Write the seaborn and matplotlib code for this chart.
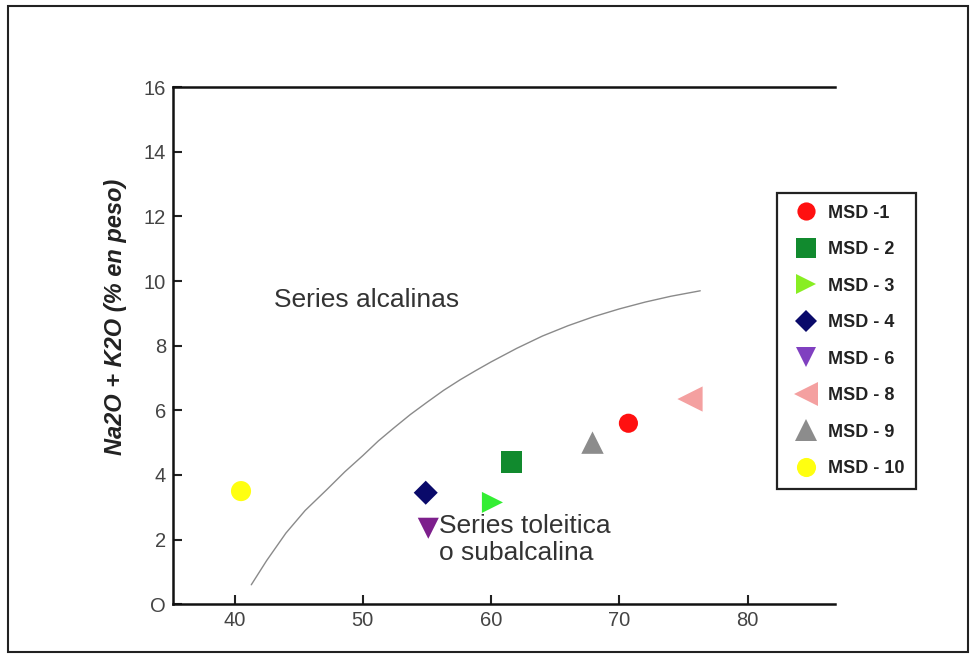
import matplotlib
matplotlib.use("Agg")
import numpy as np
import pandas as pd
import matplotlib.pyplot as plt
import seaborn as sns
from matplotlib.lines import Line2D
from matplotlib.patches import Rectangle

# Samples (SiO2 vs Na2O + K2O)
samples = ["MSD -1", "MSD - 2", "MSD - 3", "MSD - 4", "MSD - 6", "MSD - 8", "MSD - 9", "MSD - 10"]
sio2 = [70.7, 61.6, 60.1, 54.9, 55.1, 75.5, 67.9, 40.5]
alkalis = [5.6, 4.4, 3.15, 3.45, 2.35, 6.35, 5.0, 3.5]

colors = ["#ff1010", "#118a2e", "#33ee33", "#0a0a6a", "#7d1f8c", "#f4a0a0", "#8c8c8c", "#ffff10"]
legend_colors = ["#ff1010", "#118a2e", "#88ee22", "#0a0a6a", "#8040c0", "#f4a0a0", "#8c8c8c", "#ffff10"]
markers = ["o", "s", ">", "D", "v", "<", "^", "o"]
sizes = [190, 230, 230, 150, 230, 330, 260, 210]

# Alkaline / subalkaline dividing curve
curve_x = [41.3, 42.5, 44.0, 45.5, 47.2, 48.6, 50.0, 51.2, 52.4, 53.7, 55.0, 56.3, 57.6,
           58.8, 60.0, 62.0, 64.0, 66.0, 68.0, 70.0, 72.0, 74.0, 76.3]
curve_y = [0.6, 1.35, 2.2, 2.9, 3.55, 4.1, 4.6, 5.05, 5.45, 5.87, 6.25, 6.62, 6.95,
           7.23, 7.5, 7.92, 8.3, 8.62, 8.9, 9.14, 9.35, 9.53, 9.7]

df = pd.DataFrame({"sample": samples, "SiO2": sio2, "alk": alkalis})
curve = pd.DataFrame({"x": curve_x, "y": curve_y})

sns.set_style("white")
plt.rcParams["font.family"] = ["Liberation Sans", "DejaVu Sans"]
plt.rcParams.update({
    "xtick.bottom": True, "ytick.left": True,
    "xtick.direction": "in", "ytick.direction": "in",
    "xtick.major.size": 6.5, "ytick.major.size": 6.5,
    "xtick.major.width": 1.5, "ytick.major.width": 1.5,
    "xtick.color": "#222222", "ytick.color": "#222222",
})

fig = plt.figure(figsize=(9.72, 6.56), dpi=100)
ax = fig.add_axes([0.178, 0.079, 0.681, 0.788])

sns.lineplot(data=curve, x="x", y="y", ax=ax, color="#8a8a8a", lw=1.0, sort=False)
sns.scatterplot(
    data=df, x="SiO2", y="alk", ax=ax,
    hue="sample", palette=dict(zip(samples, colors)),
    style="sample", markers=dict(zip(samples, markers)),
    size="sample", sizes=dict(zip(samples, sizes)),
    linewidth=0, legend=False, zorder=3,
)

ax.set_xlim(35.2, 86.8)
ax.set_ylim(0, 16)
ax.set_xticks([40, 50, 60, 70, 80])
ax.set_yticks([0, 2, 4, 6, 8, 10, 12, 14, 16])
ax.set_yticklabels(["O", "2", "4", "6", "8", "10", "12", "14", "16"])
ax.tick_params(axis="both", which="major", bottom=True, left=True, direction="in",
               length=6.5, width=1.5, color="#222222")
ax.tick_params(axis="x", labelsize=14.5, labelcolor="#444444", pad=5)
ax.tick_params(axis="y", labelsize=14.5, labelcolor="#444444", pad=5)
ax.set_xlabel("")
ax.set_ylabel("Na2O + K2O (% en peso)", fontsize=17, fontstyle="italic",
              fontweight="bold", color="#222222")
ax.yaxis.set_label_coords(-0.069, 0.555)

for side in ["left", "bottom", "top"]:
    ax.spines[side].set_color("#111111")
    ax.spines[side].set_linewidth(1.8)
ax.spines["right"].set_visible(False)

ax.text(43.1, 9.4, "Series alcalinas", fontsize=19, color="#333333", va="center")
ax.text(55.9, 2.0, "Series toleitica\no subalcalina", fontsize=19, color="#333333",
        va="center", linespacing=1.12)

handles = [
    Line2D([], [], ls="", marker=m, color=c, markersize=np.sqrt(s) * 0.95, markeredgewidth=0)
    for m, c, s in zip(markers, legend_colors, sizes)
]
leg = fig.legend(handles, samples, loc="upper left", bbox_to_anchor=(0.799, 0.706),
                 frameon=True, fancybox=False, edgecolor="#222222", framealpha=1,
                 prop={"weight": "bold", "size": 13}, labelspacing=1.08,
                 handletextpad=0.3, borderpad=0.65, handlelength=1.9, borderaxespad=0)
leg.get_frame().set_linewidth(1.6)
for t in leg.get_texts():
    t.set_color("#222222")

fig.patches.append(Rectangle((0.008, 0.006), 0.988, 0.985, transform=fig.transFigure,
                             fill=False, edgecolor="#222222", lw=1.5))

fig.savefig("out.png", dpi=100)
